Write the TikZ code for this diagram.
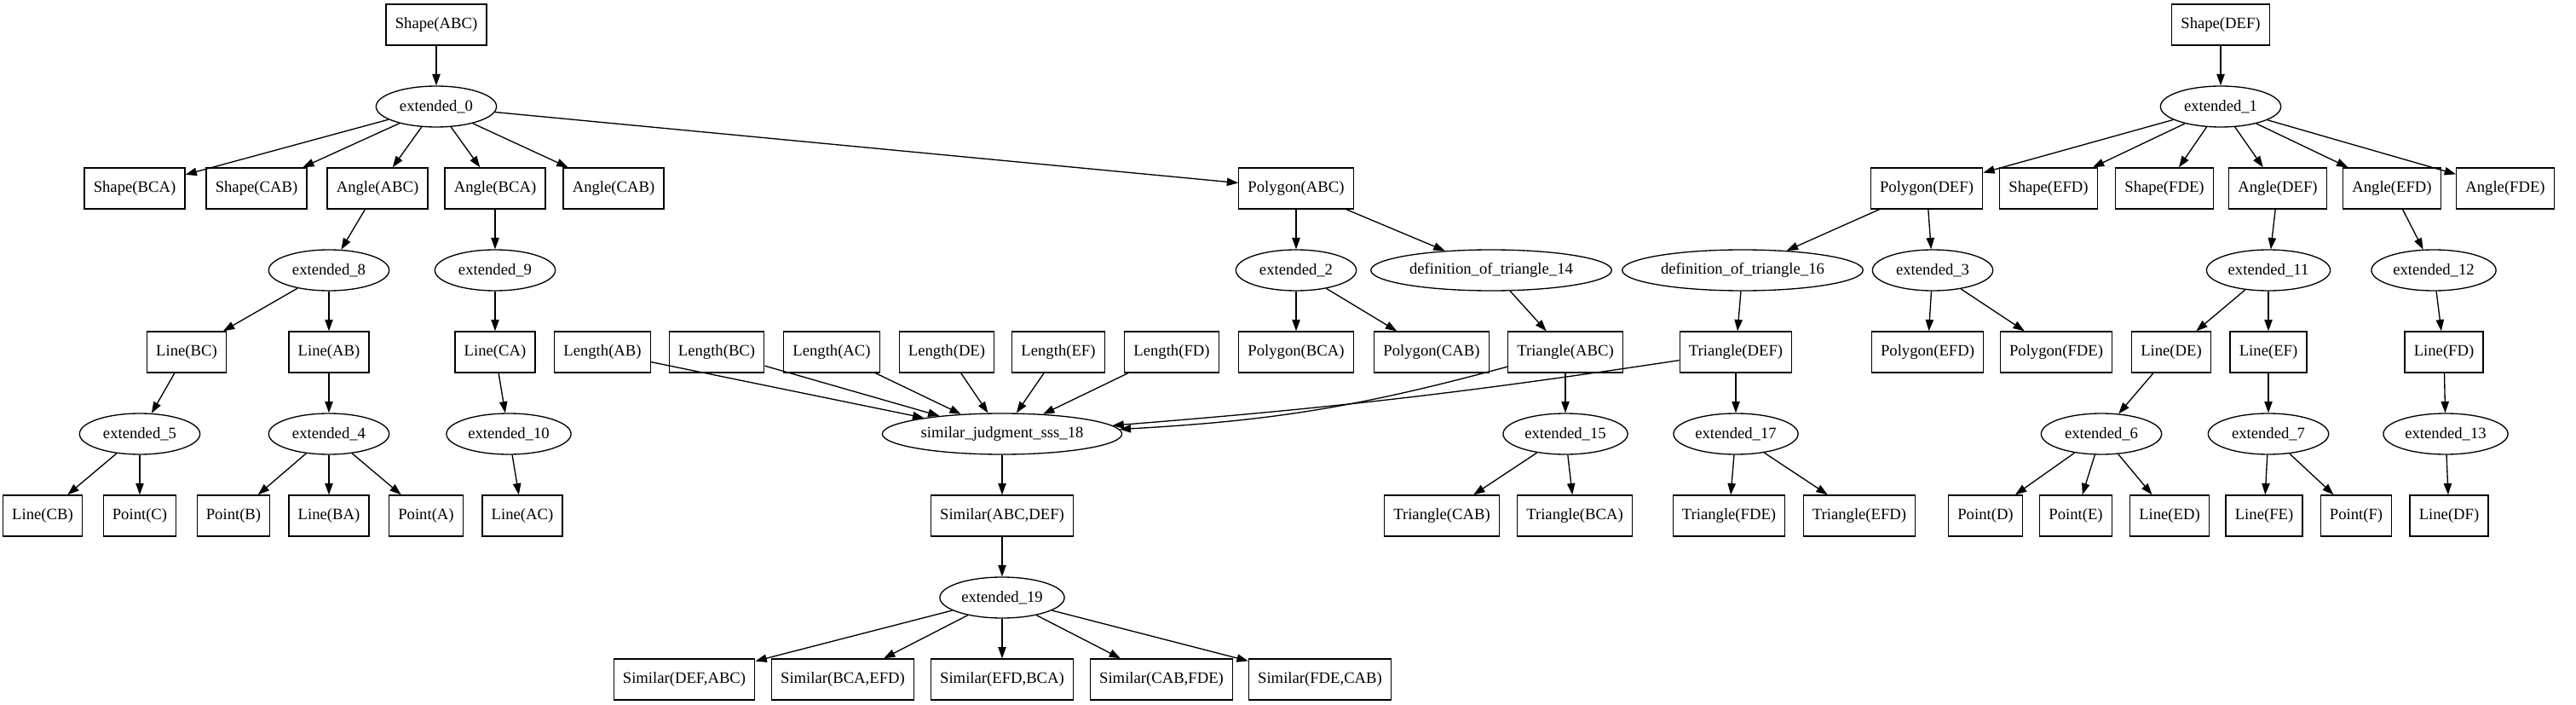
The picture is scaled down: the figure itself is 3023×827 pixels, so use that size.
\documentclass[tikz,border=0pt]{standalone}
\usepackage{fontspec}
\setmainfont{Liberation Serif}
\usetikzlibrary{arrows.meta, shapes.geometric}

\tikzset{
    box/.style={draw, rectangle, line width=1pt, minimum height=36pt, minimum width=54pt,
        inner xsep=8pt, font=\fontsize{14}{16}\selectfont},
    oval/.style={draw, ellipse, line width=1pt, minimum height=36pt, minimum width=106pt,
        inner xsep=3pt, inner ysep=0pt, font=\fontsize{14}{16}\selectfont},
    arr/.style={-{Triangle[length=10pt,width=7pt]}, line width=1pt}
}

\begin{document}
\begin{tikzpicture}[x=0.75pt, y=-0.75pt]
    \useasboundingbox (0,0) rectangle (3023,827);

    % Tree of ABC
    \node[box] (shapeABC) at (512,29) {Shape(ABC)};
    \node[oval] (ext0) at (512,125) {extended\_0};
    \node[box] (shapeBCA) at (158,221) {Shape(BCA)};
    \node[box] (shapeCAB) at (301,221) {Shape(CAB)};
    \node[box] (angleABC) at (443,221) {Angle(ABC)};
    \node[box] (angleBCA) at (581,221) {Angle(BCA)};
    \node[box] (angleCAB) at (720,221) {Angle(CAB)};
    \node[box] (polyABC) at (1521,221) {Polygon(ABC)};

    \node[oval] (ext8) at (386,317) {extended\_8};
    \node[oval] (ext9) at (581,317) {extended\_9};
    \node[oval] (ext2) at (1521,317) {extended\_2};
    \node[oval] (deftri14) at (1750,317) {definition\_of\_triangle\_14};

    \node[box] (lineBC) at (219,413) {Line(BC)};
    \node[box] (lineAB) at (386,413) {Line(AB)};
    \node[box] (lineCA) at (581,413) {Line(CA)};
    \node[box] (polyBCA) at (1521,413) {Polygon(BCA)};
    \node[box] (polyCAB) at (1680,413) {Polygon(CAB)};
    \node[box] (triABC) at (1837,413) {Triangle(ABC)};

    \node[oval] (ext5) at (164,509) {extended\_5};
    \node[oval] (ext4) at (386,509) {extended\_4};
    \node[oval] (ext10) at (597,509) {extended\_10};
    \node[oval] (ext15) at (1837,509) {extended\_15};

    \node[box] (lineCB) at (50,605) {Line(CB)};
    \node[box] (pointC) at (164,605) {Point(C)};
    \node[box] (pointB) at (274,605) {Point(B)};
    \node[box] (lineBA) at (386,605) {Line(BA)};
    \node[box] (pointA) at (500,605) {Point(A)};
    \node[box] (lineAC) at (613,605) {Line(AC)};
    \node[box] (triCAB) at (1692,605) {Triangle(CAB)};
    \node[box] (triBCA) at (1848,605) {Triangle(BCA)};

    % Lengths and the similarity judgment
    \node[box] (lenAB) at (707,413) {Length(AB)};
    \node[box] (lenBC) at (841,413) {Length(BC)};
    \node[box] (lenAC) at (976,413) {Length(AC)};
    \node[box] (lenDE) at (1111,413) {Length(DE)};
    \node[box] (lenEF) at (1242,413) {Length(EF)};
    \node[box] (lenFD) at (1375,413) {Length(FD)};
    \node[oval] (sss18) at (1176,509) {similar\_judgment\_sss\_18};
    \node[box] (simABCDEF) at (1176,605) {Similar(ABC,DEF)};
    \node[oval] (ext19) at (1176,701) {extended\_19};
    \node[box] (simDEFABC) at (803,797) {Similar(DEF,ABC)};
    \node[box] (simBCAEFD) at (989,797) {Similar(BCA,EFD)};
    \node[box] (simEFDBCA) at (1176,797) {Similar(EFD,BCA)};
    \node[box] (simCABFDE) at (1363,797) {Similar(CAB,FDE)};
    \node[box] (simFDECAB) at (1549,797) {Similar(FDE,CAB)};

    % Tree of DEF
    \node[box] (shapeDEF) at (2606,29) {Shape(DEF)};
    \node[oval] (ext1) at (2606,125) {extended\_1};
    \node[box] (polyDEF) at (2261,221) {Polygon(DEF)};
    \node[box] (shapeEFD) at (2404,221) {Shape(EFD)};
    \node[box] (shapeFDE) at (2540,221) {Shape(FDE)};
    \node[box] (angleDEF) at (2673,221) {Angle(DEF)};
    \node[box] (angleEFD) at (2807,221) {Angle(EFD)};
    \node[box] (angleFDE) at (2940,221) {Angle(FDE)};

    \node[oval] (deftri16) at (2045,317) {definition\_of\_triangle\_16};
    \node[oval] (ext3) at (2268,317) {extended\_3};
    \node[oval] (ext11) at (2662,317) {extended\_11};
    \node[oval] (ext12) at (2856,317) {extended\_12};

    \node[box] (triDEF) at (2037,413) {Triangle(DEF)};
    \node[box] (polyEFD) at (2262,413) {Polygon(EFD)};
    \node[box] (polyFDE) at (2413,413) {Polygon(FDE)};
    \node[box] (lineDE) at (2548,413) {Line(DE)};
    \node[box] (lineEF) at (2662,413) {Line(EF)};
    \node[box] (lineFD) at (2868,413) {Line(FD)};

    \node[oval] (ext17) at (2037,509) {extended\_17};
    \node[oval] (ext6) at (2466,509) {extended\_6};
    \node[oval] (ext7) at (2662,509) {extended\_7};
    \node[oval] (ext13) at (2870,509) {extended\_13};

    \node[box] (triFDE) at (2029,605) {Triangle(FDE)};
    \node[box] (triEFD) at (2182,605) {Triangle(EFD)};
    \node[box] (pointD) at (2330,605) {Point(D)};
    \node[box] (pointE) at (2436,605) {Point(E)};
    \node[box] (lineED) at (2546,605) {Line(ED)};
    \node[box] (lineFE) at (2657,605) {Line(FE)};
    \node[box] (pointF) at (2765,605) {Point(F)};
    \node[box] (lineDF) at (2874,605) {Line(DF)};

    % Edges
    \path[arr] (shapeABC) edge (ext0);
    \path[arr] (ext0) edge (shapeBCA) edge (shapeCAB) edge (angleABC)
        edge (angleBCA) edge (angleCAB) edge (polyABC);
    \path[arr] (angleABC) edge (ext8);
    \path[arr] (angleBCA) edge (ext9);
    \path[arr] (ext8) edge (lineBC) edge (lineAB);
    \path[arr] (ext9) edge (lineCA);
    \path[arr] (lineBC) edge (ext5);
    \path[arr] (lineAB) edge (ext4);
    \path[arr] (lineCA) edge (ext10);
    \path[arr] (ext5) edge (lineCB) edge (pointC);
    \path[arr] (ext4) edge (pointB) edge (lineBA) edge (pointA);
    \path[arr] (ext10) edge (lineAC);
    \path[arr] (polyABC) edge (ext2) edge (deftri14);
    \path[arr] (ext2) edge (polyBCA) edge (polyCAB);
    \path[arr] (deftri14) edge (triABC);
    \path[arr] (triABC) edge (ext15);
    \path[arr] (ext15) edge (triCAB) edge (triBCA);

    \path[arr] (lenAB) edge (sss18);
    \path[arr] (lenBC) edge (sss18);
    \path[arr] (lenAC) edge (sss18);
    \path[arr] (lenDE) edge (sss18);
    \path[arr] (lenEF) edge (sss18);
    \path[arr] (lenFD) edge (sss18);
    \draw[arr] (triABC) to[bend left=6] (sss18);
    \draw[arr] (triDEF) to[bend left=2] (sss18);
    \path[arr] (sss18) edge (simABCDEF);
    \path[arr] (simABCDEF) edge (ext19);
    \path[arr] (ext19) edge (simDEFABC) edge (simBCAEFD) edge (simEFDBCA)
        edge (simCABFDE) edge (simFDECAB);

    \path[arr] (shapeDEF) edge (ext1);
    \path[arr] (ext1) edge (polyDEF) edge (shapeEFD) edge (shapeFDE)
        edge (angleDEF) edge (angleEFD) edge (angleFDE);
    \path[arr] (polyDEF) edge (deftri16) edge (ext3);
    \path[arr] (deftri16) edge (triDEF);
    \path[arr] (triDEF) edge (ext17);
    \path[arr] (ext17) edge (triFDE) edge (triEFD);
    \path[arr] (ext3) edge (polyEFD) edge (polyFDE);
    \path[arr] (angleDEF) edge (ext11);
    \path[arr] (angleEFD) edge (ext12);
    \path[arr] (ext11) edge (lineDE) edge (lineEF);
    \path[arr] (ext12) edge (lineFD);
    \path[arr] (lineDE) edge (ext6);
    \path[arr] (lineEF) edge (ext7);
    \path[arr] (lineFD) edge (ext13);
    \path[arr] (ext6) edge (pointD) edge (pointE) edge (lineED);
    \path[arr] (ext7) edge (lineFE) edge (pointF);
    \path[arr] (ext13) edge (lineDF);
\end{tikzpicture}
\end{document}
